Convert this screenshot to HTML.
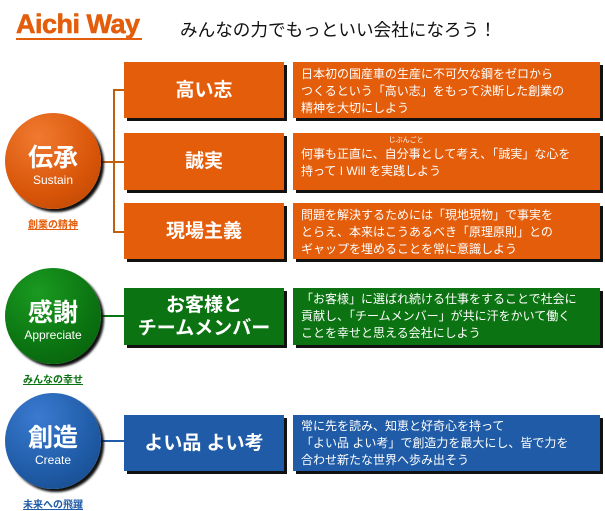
<!DOCTYPE html>
<html><head><meta charset="utf-8"><style>
body{margin:0;width:605px;height:511px;background:#fff;position:relative;overflow:hidden;font-family:"Liberation Sans","Noto Sans CJK JP",sans-serif}
.a{position:absolute}
.box{position:absolute;box-shadow:3px 3px 0 #111;color:#fff}
.t{display:flex;align-items:center;justify-content:center;font-weight:bold;font-size:19px;text-align:center;line-height:23px}
.d{font-size:12px;line-height:17px;padding:5px 8px;box-sizing:border-box}
.o{background:#e35d0b}.g{background:#0b7311}.b{background:#1f5ba6}
.c{position:absolute;width:96px;height:96px;border-radius:50%;color:#fff;text-align:center;box-shadow:3px 3px 2px #111}
.c .k{font-weight:bold;font-size:25px;margin-top:31px;line-height:28px}
.c .e{font-size:12px;line-height:16px}
.lab{position:absolute;font-size:10px;font-weight:bold;text-decoration:underline;width:96px;text-align:center;left:5px}
.ln{position:absolute;background:#c0600f}
</style></head><body>
<div class="a" style="left:16px;top:9px;font-size:27px;font-weight:bold;color:#e35d0b;letter-spacing:-0.5px;-webkit-text-stroke:0.6px #e35d0b">Aichi Way</div>
<div class="a" style="left:16px;top:38px;width:126px;height:2px;background:#e35d0b"></div>
<div class="a" style="left:180px;top:17px;font-size:17.6px;color:#111">みんなの力でもっといい会社になろう！</div>

<div class="ln" style="left:113px;top:89px;width:2px;height:143px"></div>
<div class="ln" style="left:113px;top:89px;width:11px;height:2px"></div>
<div class="ln" style="left:100px;top:161px;width:24px;height:2px"></div>
<div class="ln" style="left:113px;top:231px;width:11px;height:2px"></div>
<div class="a" style="left:100px;top:315px;width:24px;height:2px;background:#0b7311"></div>
<div class="a" style="left:100px;top:440px;width:24px;height:2px;background:#1f5ba6"></div>

<div class="c" style="left:5px;top:113px;background:radial-gradient(circle at 35% 25%,#f07a30,#d85508 60%,#b84505)"><div class="k">伝承</div><div class="e">Sustain</div></div>
<div class="lab" style="top:216px;color:#e35d0b">創業の精神</div>
<div class="c" style="left:5px;top:268px;background:radial-gradient(circle at 35% 25%,#1a9a20,#0b7311 60%,#065a0a)"><div class="k">感謝</div><div class="e">Appreciate</div></div>
<div class="lab" style="top:371px;color:#0b7311">みんなの幸せ</div>
<div class="c" style="left:5px;top:393px;background:radial-gradient(circle at 35% 25%,#3a7ad0,#1f5ba6 60%,#164785)"><div class="k">創造</div><div class="e">Create</div></div>
<div class="lab" style="top:496px;color:#1f5ba6">未来への飛躍</div>

<div class="box o t" style="left:124px;top:62px;width:160px;height:56px">高い志</div>
<div class="box o t" style="left:124px;top:133px;width:160px;height:57px">誠実</div>
<div class="box o t" style="left:124px;top:203px;width:160px;height:56px">現場主義</div>
<div class="box g t" style="left:124px;top:288px;width:160px;height:57px">お客様と<br>チームメンバー</div>
<div class="box b t" style="left:124px;top:415px;width:160px;height:56px">よい品 よい考</div>

<div class="box o d" style="left:293px;top:62px;width:307px;height:56px;padding-top:4px">日本初の国産車の生産に不可欠な鋼をゼロから<br>つくるという「高い志」をもって決断した創業の<br>精神を大切にしよう</div>
<div class="box o d" style="left:293px;top:133px;width:307px;height:57px;padding-top:13px">何事も正直に、<span style="position:relative">自分事<span style="position:absolute;left:4px;top:-10px;font-size:7px;line-height:8px;white-space:nowrap">じぶんごと</span></span>として考え、「誠実」な心を<br>持って I Will を実践しよう</div>
<div class="box o d" style="left:293px;top:203px;width:307px;height:56px;padding-top:4px">問題を解決するためには「現地現物」で事実を<br>とらえ、本来はこうあるべき「原理原則」との<br>ギャップを埋めることを常に意識しよう</div>
<div class="box g d" style="left:293px;top:288px;width:307px;height:57px;padding-top:3px">「お客様」に選ばれ続ける仕事をすることで社会に<br>貢献し、「チームメンバー」が共に汗をかいて働く<br>ことを幸せと思える会社にしよう</div>
<div class="box b d" style="left:293px;top:415px;width:307px;height:56px;padding-top:3px">常に先を読み、知恵と好奇心を持って<br>「よい品 よい考」で創造力を最大にし、皆で力を<br>合わせ新たな世界へ歩み出そう</div>
</body></html>
